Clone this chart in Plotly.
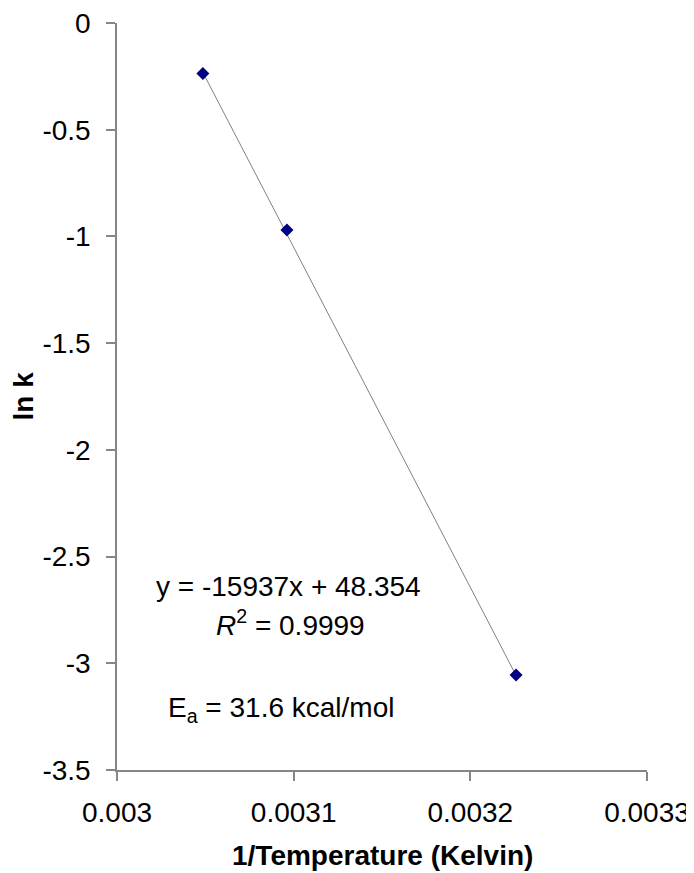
import plotly.graph_objects as go

inv_temp = [0.0030486, 0.0030962, 0.0032259]
ln_k = [-0.237, -0.970, -3.055]
slope = -15937
intercept = 48.354

x_ticks = [0.003, 0.0031, 0.0032, 0.0033]
x_tick_text = ["0.003", "0.0031", "0.0032", "0.0033"]
y_ticks = [0, -0.5, -1, -1.5, -2, -2.5, -3, -3.5]
y_tick_text = ["0", "-0.5", "-1", "-1.5", "-2", "-2.5", "-3", "-3.5"]

font_family = "Liberation Sans, Arial, sans-serif"
fs = 28

fit_x = [min(inv_temp), max(inv_temp)]
fit_y = [slope * v + intercept for v in fit_x]

fig = go.Figure()
fig.add_trace(go.Scatter(x=fit_x, y=fit_y, mode="lines",
                         line=dict(color="#808080", width=1), hoverinfo="skip"))
fig.add_trace(go.Scatter(x=inv_temp, y=ln_k, mode="markers",
                         marker=dict(symbol="diamond", size=10, color="#000080")))

axis_common = dict(showgrid=False, zeroline=False, showline=True, linecolor="#868686",
                   linewidth=1.5, ticks="outside", ticklen=9, tickcolor="#868686",
                   tickwidth=1.5, automargin=False, ticklabeloverflow="allow",
                   tickfont=dict(size=fs, family=font_family, color="black"))

fig.update_layout(
    width=686, height=865,
    margin=dict(l=109, r=47, t=15, b=103),
    paper_bgcolor="white", plot_bgcolor="white",
    showlegend=False,
    font=dict(family=font_family, color="black", size=fs),
    xaxis=dict(range=[0.003, 0.0033], tickvals=x_ticks, ticktext=x_tick_text,
               ticklabelstandoff=8, **axis_common),
    yaxis=dict(range=[-3.5, 0], tickvals=y_ticks, ticktext=y_tick_text,
               ticklabelstandoff=10, **axis_common),
)

# axis titles
fig.add_annotation(x=0.5, y=0, xref="paper", yref="paper", yshift=-85,
                   text="<b>1/Temperature (Kelvin)</b>", showarrow=False,
                   font=dict(size=fs, family=font_family), yanchor="middle")
fig.add_annotation(x=0, y=0.5, xref="paper", yref="paper", xshift=-94,
                   text="<b>ln k</b>", showarrow=False, textangle=-90,
                   font=dict(size=fs, family=font_family), xanchor="center")

fig.add_annotation(x=0.0030970, y=-2.642, xref="x", yref="y",
                   text="y = -15937x + 48.354", showarrow=False,
                   font=dict(size=fs, family=font_family))
fig.add_annotation(x=0.0030981, y=-2.810, xref="x", yref="y",
                   text="<i>R</i><sup>2</sup> = 0.9999", showarrow=False,
                   font=dict(size=fs, family=font_family))
fig.add_annotation(x=0.0030930, y=-3.218, xref="x", yref="y",
                   text="E<sub>a</sub> = 31.6 kcal/mol", showarrow=False,
                   font=dict(size=fs, family=font_family))

fig.write_html("out.html")
